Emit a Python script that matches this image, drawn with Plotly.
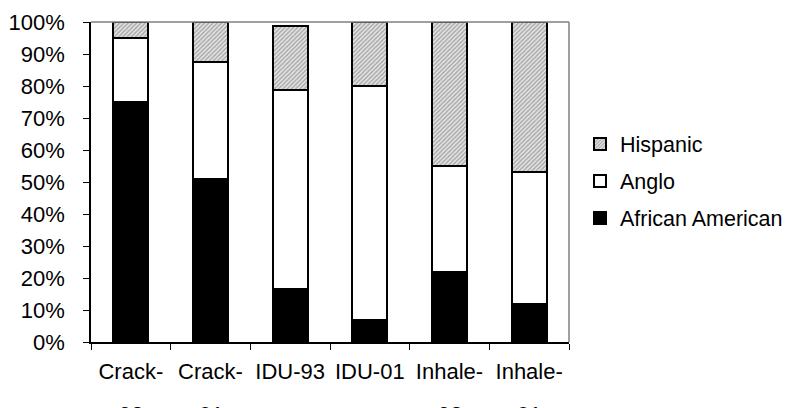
import plotly.graph_objects as go

categories = ["Crack-93", "Crack-01", "IDU-93", "IDU-01", "Inhale-93", "Inhale-01"]
tick_line1 = ["Crack-", "Crack-", "IDU-93", "IDU-01", "Inhale-", "Inhale-"]
tick_line2 = ["93", "01", "", "", "93", "01"]

african_american = [75, 51, 16.5, 7, 22, 12]
anglo = [20, 36.5, 62.3, 73, 33, 41]
hispanic = [5, 12.5, 20, 20, 45, 47]

y_ticks = [0, 10, 20, 30, 40, 50, 60, 70, 80, 90, 100]
y_ticktext = [f"{v}%" for v in y_ticks]

FONT = "Liberation Sans, Arial, sans-serif"
FS = 22

fig = go.Figure()
fig.add_trace(go.Bar(
    x=categories, y=african_american, name="African American",
    marker=dict(color="black", line=dict(color="black", width=2)),
    legendrank=3, legendgroup="aa",
))
fig.add_trace(go.Bar(
    x=categories, y=anglo, name="Anglo",
    marker=dict(color="white", line=dict(color="black", width=2)),
    legendrank=2, legendgroup="an",
))
fig.add_trace(go.Bar(
    x=categories, y=hispanic, name="Hispanic",
    marker=dict(color="#b8b8b8", line=dict(color="black", width=2),
                pattern=dict(shape="/", fgcolor="#6a6a6a", bgcolor="#e8e8e8",
                             size=3, solidity=0.5)),
    legendrank=1, legendgroup="hi",
))

for i, t in enumerate(tick_line2):
    if t:
        fig.add_annotation(x=categories[i], y=0, xref="x", yref="paper",
                           yshift=-58, yanchor="top", text=t, showarrow=False,
                           font=dict(family=FONT, size=FS, color="black"))

# plot-area border (top and right)
fig.add_shape(type="line", xref="paper", yref="paper", x0=0, x1=1, y0=1, y1=1,
              line=dict(color="#808080", width=1.5))
fig.add_shape(type="line", xref="paper", yref="paper", x0=1, x1=1, y0=0, y1=1,
              line=dict(color="#808080", width=1.5))

fig.update_layout(
    width=791, height=408,
    margin=dict(l=91, r=222, t=22, b=66, autoexpand=False),
    barmode="stack", bargap=0.56,
    plot_bgcolor="white", paper_bgcolor="white",
    font=dict(family=FONT, size=FS, color="black"),
    showlegend=True,
    legend=dict(xref="container", yref="container", x=580 / 791, y=227 / 408,
                xanchor="left", yanchor="middle",
                traceorder="grouped", tracegroupgap=6,
                font=dict(family=FONT, size=21.5, color="black"),
                itemwidth=30, bgcolor="rgba(0,0,0,0)"),
    xaxis=dict(tickmode="array", tickvals=categories, ticktext=tick_line1,
               tickson="boundaries", ticks="outside", ticklen=6, tickcolor="black",
               tickangle=0, automargin=False,
               showline=True, linecolor="black", linewidth=1.5,
               showgrid=False, ticklabelstandoff=9, fixedrange=True),
    yaxis=dict(range=[0, 100], tickvals=y_ticks, ticktext=y_ticktext,
               ticks="outside", ticklen=6, tickcolor="black", automargin=False,
               showline=True, linecolor="black", linewidth=1.5,
               showgrid=False, zeroline=False, ticklabelstandoff=14,
               fixedrange=True),
)

fig.write_html("out.html")
